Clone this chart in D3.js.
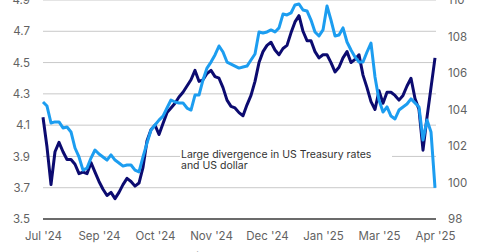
<!DOCTYPE html>
<html>
<head>
<meta charset="utf-8">
<script src="https://cdn.jsdelivr.net/npm/d3@7"></script>
<style>
  html, body { margin: 0; padding: 0; background: #fff; overflow: hidden; }
  svg { display: block; font-family: Inter, "Noto Sans", sans-serif; }
</style>
</head>
<body>
<script>
// 10Y US Treasury rate (%), left axis
const treasury = [
  4.15, 3.96, 3.72, 3.93, 3.99, 3.93, 3.88, 3.88, 3.85, 3.79,
  3.80, 3.79, 3.86, 3.80, 3.74, 3.69, 3.65, 3.67, 3.63, 3.67,
  3.72, 3.76, 3.74, 3.71, 3.73, 3.83, 4.00, 4.07, 4.10, 4.04,
  4.11, 4.18, 4.21, 4.24, 4.28, 4.31, 4.35, 4.39, 4.45, 4.38,
  4.39, 4.43, 4.45, 4.41, 4.40, 4.34, 4.26, 4.22, 4.21, 4.18,
  4.16, 4.23, 4.29, 4.38, 4.50, 4.57, 4.61, 4.63, 4.58, 4.55,
  4.59, 4.61, 4.69, 4.76, 4.80, 4.70, 4.64, 4.64, 4.57, 4.53,
  4.55, 4.55, 4.50, 4.44, 4.47, 4.53, 4.57, 4.50, 4.52, 4.55,
  4.42, 4.34, 4.25, 4.20, 4.32, 4.24, 4.31, 4.31, 4.29, 4.26,
  4.29, 4.35, 4.40, 4.27, 4.20, 3.94, 4.15, 4.34, 4.53
]

// US Dollar Index, right axis
const dollar = [
  104.41, 104.19, 103.26, 103.32, 103.32, 102.99, 103.04, 102.77, 101.89, 101.40,
  100.68, 100.79, 101.34, 101.78, 101.56, 101.40, 101.23, 101.51, 101.23, 101.07,
  100.90, 100.96, 100.96, 100.68, 100.58, 101.40, 102.16, 102.88, 103.15, 103.42,
  103.64, 104.08, 104.52, 104.41, 104.36, 104.36, 104.08, 103.97, 104.79, 104.79,
  105.62, 106.27, 106.60, 106.99, 107.48, 107.15, 106.60, 106.49, 106.38, 106.27,
  106.33, 106.38, 106.71, 107.04, 108.25, 108.19, 108.25, 108.36, 108.25, 108.47,
  109.23, 109.18, 109.29, 109.73, 109.78, 109.45, 109.40, 108.90, 108.25, 108.03,
  108.36, 109.67, 108.90, 108.03, 108.08, 108.47, 107.70, 107.26, 106.88, 106.60,
  106.60, 107.15, 107.64, 105.78, 104.52, 103.86, 104.14, 103.64, 103.48, 103.97,
  104.14, 104.30, 104.58, 104.36, 104.14, 102.33, 103.42, 102.77, 99.70
]

const monthLabels = ["Jul '24", "Sep '24", "Oct '24", "Nov '24", "Dec '24", "Jan '25", "Mar '25", "Apr '25"]
const labelEvery = 14

const leftTicks = [3.5, 3.7, 3.9, 4.1, 4.3, 4.5, 4.7, 4.9]
const rightTicks = [98, 100, 102, 104, 106, 108, 110]

const seriesNames = ["10Y US Treasury rate (%, lhs)", "US Dollar Index (rhs)"]
const noteLines = ["Large divergence in US Treasury rates", "and US dollar"]

var w = 480
var h = 252
var plotLeft = 43, plotRight = 436, plotTop = 0, plotBottom = 219

var navy = "#0c0b70"
var sky = "#1c9df0"

var svg = d3.select("body").append("svg")
  .attr("width", w)
  .attr("height", h)

var xScale = d3.scaleLinear()
  .domain([0, treasury.length - 1])
  .range([plotLeft, 435])

var yLeft = d3.scaleLinear()
  .domain([3.5, 4.9])
  .range([plotBottom, plotTop])

var yRight = d3.scaleLinear()
  .domain([98, 110])
  .range([plotBottom, plotTop])

// gridlines (follow the left axis)
svg.append("g")
  .selectAll("line")
  .data(leftTicks.slice(1))
  .enter()
  .append("line")
  .attr("x1", plotLeft)
  .attr("x2", plotRight)
  .attr("y1", d => yLeft(d))
  .attr("y2", d => yLeft(d))
  .attr("stroke", "#c9c9c9")
  .attr("stroke-width", 1)

// left axis
var leftAxis = d3.axisLeft(yLeft)
  .tickValues(leftTicks)
  .tickFormat(d3.format(".1f"))
  .tickSize(0)
  .tickPadding(13)

svg.append("g")
  .attr("transform", `translate(${plotLeft},0)`)
  .call(leftAxis)
  .call(g => g.select(".domain").remove())
  .selectAll("text")
  .attr("fill", "#626262")
  .attr("font-size", "11.5px")
  .attr("font-family", "Inter, sans-serif")

// right axis
var rightAxis = d3.axisRight(yRight)
  .tickValues(rightTicks)
  .tickFormat(d3.format("d"))
  .tickSize(0)
  .tickPadding(12)

svg.append("g")
  .attr("transform", `translate(${plotRight},0)`)
  .call(rightAxis)
  .call(g => g.select(".domain").remove())
  .selectAll("text")
  .attr("fill", "#626262")
  .attr("font-size", "11.5px")
  .attr("font-family", "Inter, sans-serif")

// bottom axis with month labels
var xAxis = d3.axisBottom(xScale)
  .tickValues(monthLabels.map((d, i) => i * labelEvery))
  .tickFormat((d, i) => monthLabels[i])
  .tickSize(0)
  .tickPadding(13)

svg.append("g")
  .attr("transform", `translate(0,${plotBottom})`)
  .call(xAxis)
  .call(g => g.select(".domain").remove())
  .selectAll("text")
  .attr("fill", "#626262")
  .attr("font-size", "11.5px")
  .attr("font-family", "Inter, sans-serif")

svg.append("line")
  .attr("x1", plotLeft)
  .attr("x2", plotRight)
  .attr("y1", yLeft(3.5))
  .attr("y2", yLeft(3.5))
  .attr("stroke", "#3a3a3a")
  .attr("stroke-width", 1.6)

// annotation box (hides the gridline behind it)
svg.append("rect")
  .attr("x", 180)
  .attr("y", 147)
  .attr("width", 212)
  .attr("height", 25)
  .attr("fill", "#fff")

svg.append("g")
  .selectAll("text")
  .data(noteLines)
  .enter()
  .append("text")
  .attr("x", 181)
  .attr("y", (d, i) => 154 + i * 11.5)
  .attr("dy", "0.35em")
  .attr("fill", "#333")
  .attr("font-size", "10.5px")
  .text(d => d)

// lines
var treasuryLine = d3.line()
  .x((d, i) => xScale(i))
  .y(d => yLeft(d))

var dollarLine = d3.line()
  .x((d, i) => xScale(i))
  .y(d => yRight(d))

svg.append("path")
  .datum(treasury)
  .attr("fill", "none")
  .attr("stroke", navy)
  .attr("stroke-width", 3)
  .attr("stroke-linejoin", "round")
  .attr("d", treasuryLine)

svg.append("path")
  .datum(dollar)
  .attr("fill", "none")
  .attr("stroke", sky)
  .attr("stroke-width", 3)
  .attr("stroke-linejoin", "round")
  .attr("d", dollarLine)

// legend (mostly below the visible area)
var legend = svg.append("g")
  .selectAll("g")
  .data(seriesNames)
  .enter()
  .append("g")
  .attr("transform", (d, i) => `translate(${i === 0 ? 77 : 315},257)`)

legend.append("line")
  .attr("x1", -34)
  .attr("x2", -6)
  .attr("y1", 3)
  .attr("y2", 3)
  .attr("stroke", (d, i) => i === 0 ? navy : sky)
  .attr("stroke-width", 3)

legend.append("text")
  .attr("x", 0)
  .attr("y", 0)
  .attr("dy", "0.35em")
  .attr("fill", "#626262")
  .attr("font-size", "11.5px")
  .text(d => d)
</script>
</body>
</html>
